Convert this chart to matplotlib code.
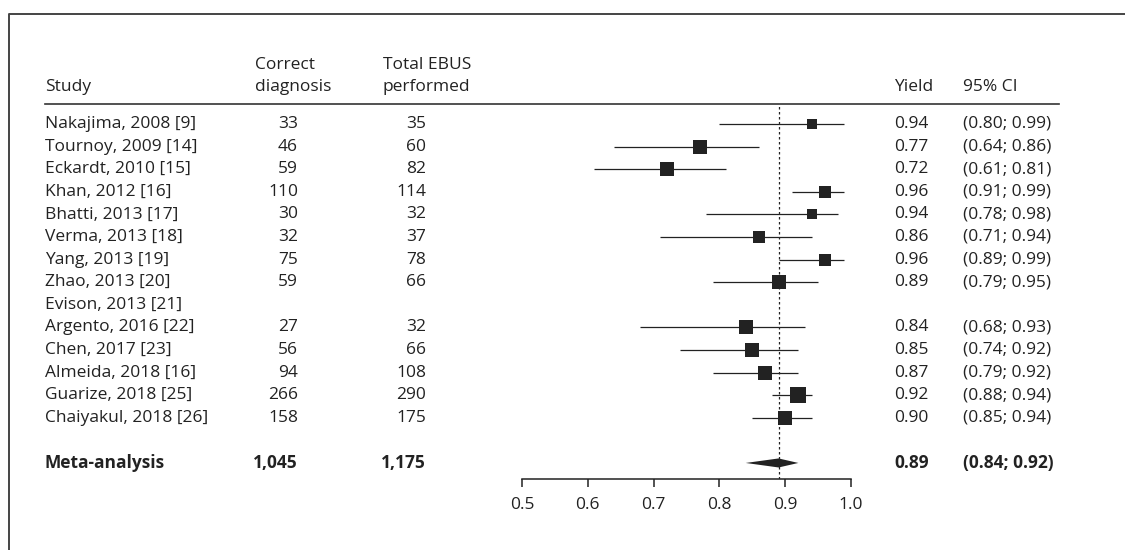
import matplotlib.pyplot as plt
from matplotlib.lines import Line2D
from matplotlib.transforms import blended_transform_factory
import numpy as np

plt.rcParams['font.family'] = ['Open Sans', 'DejaVu Sans']
plt.rcParams['font.size'] = 12.5

# data
studies = ["Nakajima, 2008 [9]", "Tournoy, 2009 [14]", "Eckardt, 2010 [15]",
           "Khan, 2012 [16]", "Bhatti, 2013 [17]", "Verma, 2013 [18]",
           "Yang, 2013 [19]", "Zhao, 2013 [20]", "Evison, 2013 [21]",
           "Argento, 2016 [22]", "Chen, 2017 [23]", "Almeida, 2018 [16]",
           "Guarize, 2018 [25]", "Chaiyakul, 2018 [26]"]
correct = [33, 46, 59, 110, 30, 32, 75, 59, None, 27, 56, 94, 266, 158]
total = [35, 60, 82, 114, 32, 37, 78, 66, None, 32, 66, 108, 290, 175]
yields = [0.94, 0.77, 0.72, 0.96, 0.94, 0.86, 0.96, 0.89, None, 0.84, 0.85, 0.87, 0.92, 0.90]
ci_low = [0.80, 0.64, 0.61, 0.91, 0.78, 0.71, 0.89, 0.79, None, 0.68, 0.74, 0.79, 0.88, 0.85]
ci_high = [0.99, 0.86, 0.81, 0.99, 0.98, 0.94, 0.99, 0.95, None, 0.93, 0.92, 0.92, 0.94, 0.94]
weights = [4.0, 9.6, 9.6, 5.9, 4.0, 7.1, 5.9, 8.3, None, 7.7, 8.3, 9.6, 10.3, 9.6]  # estimated %

meta_label = "Meta-analysis"
meta_correct = 1045
meta_total = 1175
meta_yield = 0.89
meta_low = 0.84
meta_high = 0.92

xticks = [0.5, 0.6, 0.7, 0.8, 0.9, 1.0]

ink = '#222222'
W, H = 1125, 550
fig = plt.figure(figsize=(W / 100, H / 100), dpi=100)
ax = fig.add_axes([522 / W, 1 - 479 / H, 329 / W, 375 / H])

n = len(studies)
meta_row = n + 1
ax.set_xlim(0.5, 1.0)
ax.set_ylim(15.71, -0.885)

# study rows
for i in range(n):
    if yields[i] is None:
        continue
    ax.plot([ci_low[i], ci_high[i]], [i, i], color=ink, lw=0.9, solid_capstyle='butt', clip_on=False)
    ax.plot(yields[i], i, marker='s', ms=3.4 * np.sqrt(weights[i]), color=ink, mec=ink, mew=0, clip_on=False)

# summary diamond
h = 0.2
ax.fill([meta_low, meta_yield, meta_high, meta_yield],
        [meta_row, meta_row - h, meta_row, meta_row + h], color=ink, lw=0, clip_on=False)
ax.axvline(meta_yield, color=ink, lw=0.9, ls=(0, (2, 2)))

for s in ['left', 'top', 'right']:
    ax.spines[s].set_visible(False)
ax.spines['bottom'].set_color(ink)
ax.spines['bottom'].set_linewidth(1.1)
ax.set_yticks([])
ax.set_xticks(xticks)
ax.set_xticklabels([f"{t:.1f}" for t in xticks])
ax.tick_params(axis='x', length=6, width=1.1, color=ink, labelcolor=ink, pad=7, labelsize=12.5)

# table columns
tr = blended_transform_factory(fig.transFigure, ax.transData)
x_study = 45 / W
x_corr = 298 / W
x_tot = 426 / W
x_yield = 894 / W
x_ci = 963 / W

def txt(x, y, s, ha='left', bold=False):
    ax.text(x, y, s, transform=tr, ha=ha, va='center', color=ink,
            fontweight='bold' if bold else 'normal', clip_on=False)

txt(x_study, -1.64, "Study")
txt(255 / W, -2.61, "Correct")
txt(255 / W, -1.64, "diagnosis")
txt(383 / W, -2.61, "Total EBUS")
txt(383 / W, -1.64, "performed")
txt(x_yield, -1.64, "Yield")
txt(x_ci, -1.64, "95% CI")

for i in range(n):
    txt(x_study, i, studies[i])
    if yields[i] is None:
        continue
    txt(x_corr, i, str(correct[i]), ha='right')
    txt(x_tot, i, str(total[i]), ha='right')
    txt(x_yield, i, f"{yields[i]:.2f}")
    txt(x_ci, i, f"({ci_low[i]:.2f}; {ci_high[i]:.2f})")

txt(x_study, meta_row, meta_label, bold=True)
txt(x_corr, meta_row, f"{meta_correct:,}", ha='right', bold=True)
txt(x_tot, meta_row, f"{meta_total:,}", ha='right', bold=True)
txt(x_yield, meta_row, f"{meta_yield:.2f}", bold=True)
txt(x_ci, meta_row, f"({meta_low:.2f}; {meta_high:.2f})", bold=True)

# header rule and frame
fig.add_artist(Line2D([45 / W, 1059 / W], [1 - 104 / H, 1 - 104 / H], color='#333333', lw=1.2))
fig.add_artist(Line2D([9 / W, 9 / W, 1.0], [0, 1 - 14 / H, 1 - 14 / H], color='#444444', lw=1.4))

fig.savefig('out.png', dpi=100)
